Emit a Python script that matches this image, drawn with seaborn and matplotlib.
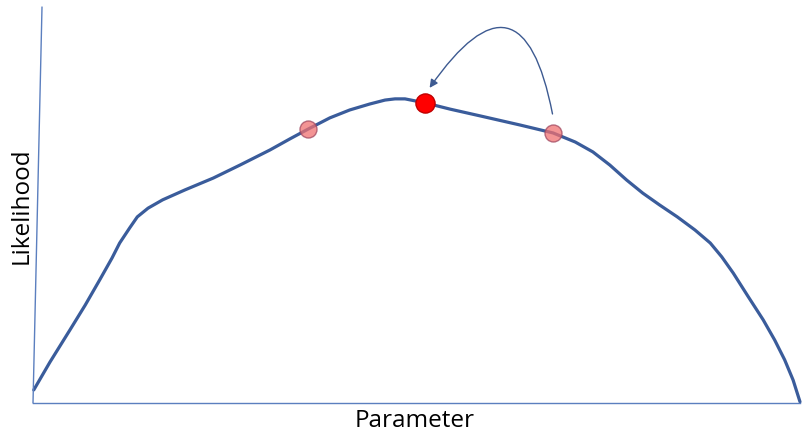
import matplotlib
matplotlib.use('Agg')
import matplotlib.pyplot as plt
import seaborn as sns
import pandas as pd

sns.set_theme(style='white')
plt.rcParams['font.family'] = ['Open Sans', 'DejaVu Sans']

# likelihood curve
param = [0.01, 0.22, 0.48, 0.68, 0.87, 1.03, 1.13, 1.26, 1.36, 1.50, 1.69, 1.98,
         2.35, 2.70, 3.09, 3.35, 3.59, 3.87, 4.13, 4.39, 4.59, 4.72, 4.85, 4.98,
         5.11, 5.44, 5.83, 6.35, 6.78, 7.07, 7.30, 7.52, 7.74, 7.95, 8.17, 8.40,
         8.63, 8.83, 8.98, 9.13, 9.32, 9.52, 9.67, 9.80, 9.91, 10.0]
likelihood = [0.33, 1.03, 1.84, 2.47, 3.11, 3.66, 4.04, 4.42, 4.70, 4.92, 5.13, 5.38,
              5.68, 6.01, 6.39, 6.67, 6.92, 7.20, 7.40, 7.55, 7.65, 7.68, 7.68, 7.63,
              7.58, 7.42, 7.25, 7.02, 6.82, 6.59, 6.34, 6.01, 5.63, 5.30, 5.00, 4.70,
              4.37, 4.04, 3.69, 3.28, 2.70, 2.10, 1.59, 1.09, 0.58, 0.03]

# candidate points on the curve
cand_param = [3.59, 6.78]
cand_lik = [6.92, 6.82]
best_param = [5.11]
best_lik = [7.58]

df = pd.DataFrame({'Parameter': param, 'Likelihood': likelihood})

fig = plt.figure(figsize=(8.02, 4.38), dpi=100)
ax = fig.add_axes([33 / 802, 35 / 438, 767 / 802, 396 / 438])

sns.lineplot(data=df, x='Parameter', y='Likelihood', ax=ax, color='#3A5C9B',
             linewidth=2.3, sort=False, clip_on=False,
             solid_joinstyle='round', solid_capstyle='round')
sns.scatterplot(x=cand_param, y=cand_lik, ax=ax, s=150, color='#F07070',
                edgecolor='#A04860', linewidth=1, alpha=0.75, zorder=3, clip_on=False)
sns.scatterplot(x=best_param, y=best_lik, ax=ax, s=190, color='#FF0000',
                edgecolor='#C00000', linewidth=1, zorder=4, clip_on=False)

# curved arrow from the right candidate to the best point
ax.annotate('', xy=(5.15, 7.90), xytext=(6.78, 7.23),
            arrowprops=dict(arrowstyle='-|>', color='#3D5A91', lw=1,
                            mutation_scale=12,
                            connectionstyle='arc3,rad=1.2'))

ax.set_xlim(0, 10)
ax.set_ylim(0, 10)
ax.set_xticks([])
ax.set_yticks([])
ax.set_xlabel('')
ax.set_ylabel('')
for side in ['top', 'right', 'left']:
    ax.spines[side].set_visible(False)
ax.spines['bottom'].set_color('#5B7FBF')
ax.spines['bottom'].set_linewidth(1)
# slightly tilted vertical axis as in the original
ax.plot([0, 9 / 767 * 10], [0, 10], color='#5B7FBF', lw=1, clip_on=False)

fig.text(22 / 802, 1 - 206 / 438, 'Likelihood', rotation=90, ha='center',
         va='center', fontsize=17.5, color='black')
fig.text(415 / 802, 1 - 421 / 438, 'Parameter', ha='center', va='center',
         fontsize=17.5, color='black')

fig.savefig('out.png', dpi=100)
